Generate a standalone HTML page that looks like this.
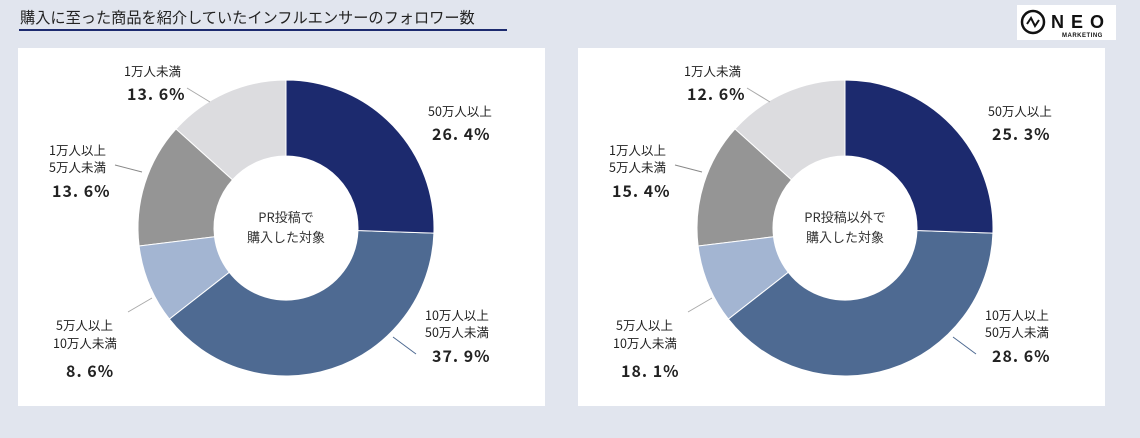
<!DOCTYPE html>
<html><head><meta charset="utf-8">
<style>
body{margin:0;width:1140px;height:438px;background:#e1e5ee;overflow:hidden;font-family:"Liberation Sans","Noto Sans CJK JP",sans-serif;}
.t{position:absolute;left:20px;top:6px;font-size:15.2px;color:#222;font-family:"Noto Sans CJK JP",sans-serif;}
.ul{position:absolute;left:19px;top:29px;width:488px;height:2px;background:#1c2a6e;}
.logo{position:absolute;left:1017px;top:5px;width:99px;height:35px;background:#fff;}
.panel{position:absolute;top:48px;width:527px;height:358px;background:#fff;}
svg{position:absolute;left:0;top:0}
text{font-family:"Noto Sans CJK JP",sans-serif;fill:#222}
.l{font-size:12.5px}
.p{font-size:16px;font-weight:bold;letter-spacing:1px}
.c{font-size:13px;fill:#333}
</style></head><body>
<div class="t">購入に至った商品を紹介していたインフルエンサーのフォロワー数</div>
<div class="ul"></div>
<div class="logo">
<svg width="99" height="35"><circle cx="16" cy="17" r="11" fill="none" stroke="#111" stroke-width="2.5"/><path d="M10 19 L14 13 L18 21 L22 15" fill="none" stroke="#111" stroke-width="2"/>
<text x="34" y="23" style="font-family:'Liberation Sans';font-size:18px;font-weight:bold;letter-spacing:7px;fill:#111">NEO</text>
<text x="45" y="32" style="font-family:'Liberation Sans';font-size:6px;font-weight:bold;letter-spacing:.5px;fill:#111">MARKETING</text></svg>
</div>
<div class="panel" style="left:18px"></div>
<div class="panel" style="left:578px"></div>
<svg id="s" width="1140" height="438">
<g class="lbl">
<line x1="187" y1="88" x2="210" y2="102" stroke="#aaa"/>
<line x1="115" y1="165" x2="142" y2="172" stroke="#888"/>
<line x1="128" y1="312" x2="152" y2="298" stroke="#aaa"/>
<line x1="393" y1="337" x2="416" y2="354" stroke="#4e6a92"/>
<text class="l" x="124" y="76">1万人未満</text><text class="p" x="127" y="100">13. 6%</text>
<text class="l" x="49" y="155">1万人以上</text><text class="l" x="49" y="172">5万人未満</text><text class="p" x="52" y="197">13. 6%</text>
<text class="l" x="56" y="330">5万人以上</text><text class="l" x="53" y="348">10万人未満</text><text class="p" x="66" y="377">8. 6%</text>
<text class="l" x="428" y="116">50万人以上</text><text class="p" x="432" y="140">26. 4%</text>
<text class="l" x="425" y="320">10万人以上</text><text class="l" x="425" y="337">50万人未満</text><text class="p" x="432" y="362">37. 9%</text>
<text class="c" x="286" y="222" text-anchor="middle">PR投稿で</text><text class="c" x="286" y="242" text-anchor="middle">購入した対象</text>

<line x1="747" y1="88" x2="770" y2="102" stroke="#aaa"/>
<line x1="675" y1="165" x2="702" y2="172" stroke="#888"/>
<line x1="688" y1="312" x2="712" y2="298" stroke="#aaa"/>
<line x1="953" y1="337" x2="976" y2="354" stroke="#4e6a92"/>
<text class="l" x="684" y="76">1万人未満</text><text class="p" x="687" y="100">12. 6%</text>
<text class="l" x="609" y="155">1万人以上</text><text class="l" x="609" y="172">5万人未満</text><text class="p" x="612" y="197">15. 4%</text>
<text class="l" x="616" y="330">5万人以上</text><text class="l" x="613" y="348">10万人未満</text><text class="p" x="621" y="377">18. 1%</text>
<text class="l" x="988" y="116">50万人以上</text><text class="p" x="992" y="140">25. 3%</text>
<text class="l" x="985" y="320">10万人以上</text><text class="l" x="985" y="337">50万人未満</text><text class="p" x="992" y="362">28. 6%</text>
<text class="c" x="845" y="222" text-anchor="middle">PR投稿以外で</text><text class="c" x="845" y="242" text-anchor="middle">購入した対象</text>
</g>
</svg>
<script>
var s=document.getElementById('s'),ns='http://www.w3.org/2000/svg';
var cols=['#1c2a6e','#4e6a92','#a3b5d2','#959595','#dcdcdf'];
var ang=[0,92,232,263,312,360];
function donut(cx,cy){var R=148,r=72;
for(var i=0;i<5;i++){var a0=(ang[i]-90)*Math.PI/180,a1=(ang[i+1]-90)*Math.PI/180,lg=(ang[i+1]-ang[i])>180?1:0;
var d='M'+(cx+R*Math.cos(a0))+' '+(cy+R*Math.sin(a0))+' A'+R+' '+R+' 0 '+lg+' 1 '+(cx+R*Math.cos(a1))+' '+(cy+R*Math.sin(a1))+' L'+(cx+r*Math.cos(a1))+' '+(cy+r*Math.sin(a1))+' A'+r+' '+r+' 0 '+lg+' 0 '+(cx+r*Math.cos(a0))+' '+(cy+r*Math.sin(a0))+'Z';
var p=document.createElementNS(ns,'path');p.setAttribute('d',d);p.setAttribute('fill',cols[i]);p.setAttribute('stroke','#fff');p.setAttribute('stroke-width','1');s.insertBefore(p,s.firstChild);}}
donut(286,228);donut(845,228);
</script>
</body></html>
